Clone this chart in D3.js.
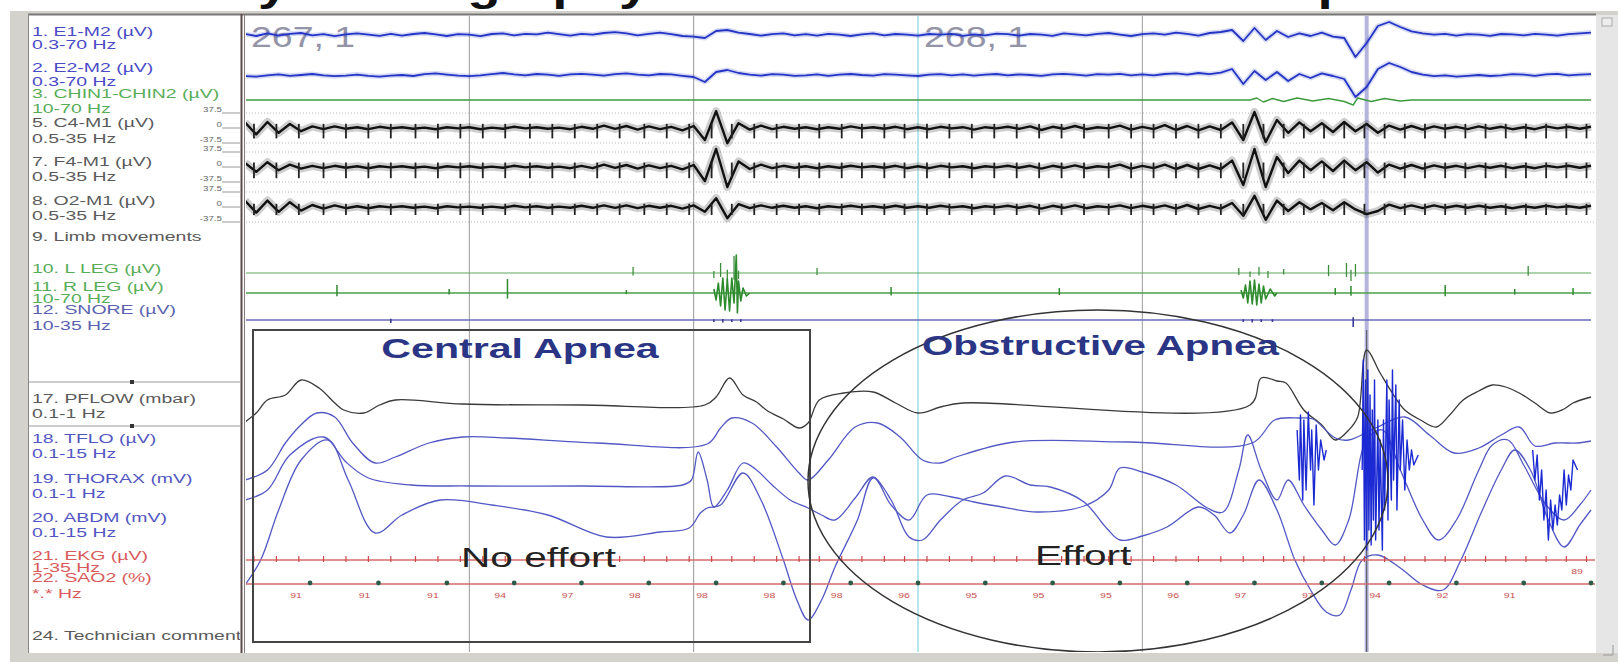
<!DOCTYPE html>
<html>
<head>
<meta charset="utf-8">
<script src="https://cdn.jsdelivr.net/npm/d3@7"></script>
<style>
  body { margin: 0; background: #fff; }
  svg { display: block; font-family: "Liberation Sans", Arial, sans-serif; }
</style>
</head>
<body>
<div class="canvas"></div>
<script>
// ---- DATA (time in seconds, 60 s window) ----
const epochStarts = [0, 30];
const epochLabels = ["267, 1", "268, 1"];
const gridTimes = [10, 20, 40];
const cursorTime = 50;

// heart beats (EKG ticks, also the artifact spikes on the EEG)
const beatTimes = [0.4,1.4,2.4,3.5,4.5,5.5,6.5,7.6,8.6,9.6,10.6,11.6,12.7,13.7,14.7,15.7,16.7,17.8,18.8,19.8,
  20.8,21.7,22.7,23.7,24.7,25.6,26.6,27.5,28.5,29.4,30.4,31.4,32.4,33.4,34.4,35.4,36.4,37.4,38.5,39.5,
  40.5,41.5,42.5,43.5,44.5,45.4,46.3,47.2,48.1,49.0,49.9,50.8,51.7,52.6,53.5,54.4,55.3,56.2,57.1,58.0,58.9,59.8];

// EOG, µV, one value every 0.5 s
const sampleStep = 0.5;
const e1Samples = [5,-5,8,-3,6,10,-2,4,-6,3, 8,2,-4,6,-3,5,10,3,-5,4, 2,-6,5,8,-2,6,3,12,4,-3, 6,2,10,14,8,-2,6,12,4,-5,
  -8,-15,20,25,12,5,-3,4,8,-2, 4,-3,6,2,-5,3,8,-2,5,2, -3,5,2,6,-4,3,-2,7,4,-3, 5,2,-4,8,3,-2,6,10,2,-5,
  4,8,2,12,6,-3,10,15,25,-30, 35,-25,20,-10,8,-5,12,-8,-15,-110, -40,45,65,40,18,8,2,6,-3,4, 2,-4,5,3,-2,6,2,-3,4,8,12];
const e2Samples = [-5,-8,-2,3,-4,0,5,-2,-6,-3, 2,-4,-8,-3,0,-5,4,8,2,-3, -6,-2,4,10,3,-2,5,2,-4,3, 6,2,-3,4,8,2,-2,5,3,-4,
  -10,-35,15,25,10,2,-3,4,2,-4, -2,3,-4,2,5,0,-3,4,2,-2, -5,2,4,-2,3,-3,2,5,-2,3, 0,-4,3,6,2,-3,4,2,6,-2,
  3,-2,5,8,2,10,4,12,30,-45, 20,-25,15,-30,5,-15,8,-5,-20,-110, -60,30,60,40,15,2,-6,-2,-8,-4, 0,-5,-2,4,2,-4,3,6,-2,2,4];

// chin EMG, µV
const chinTrace = [[0,0],[44.8,0],[45.1,4],[45.4,-4],[45.8,3],[46.3,-3],[46.9,4],[47.6,-2],[48.3,3],[49.0,-3],
  [49.4,-10],[49.6,4],[50.2,-3],[50.8,3],[51.5,-2],[52,0],[60,0]];

// EEG, µV, one value every 0.5 s
const c4Samples = [14,-16,15,-12,10,-8,4,-3,4,-2, 2,-3,3,-1,2,-2,1,-3,2,-1, 2,-3,1,-2,3,-1,2,-2,1,-3, 3,-2,6,-2,5,-4,4,-3,3,-6,
  5,-30,42,-38,12,-4,6,-3,3,-2, 2,-3,2,-2,4,-1,2,-2,3,-3, 2,-3,3,-1,2,-4,2,-1,3,-2, 4,-5,3,-2,5,-3,2,-1,6,-4,
  3,-3,7,-5,5,-6,4,-5,14,-30, 40,-35,20,-12,14,-8,12,-10,15,-8, 10,-12,6,-4,5,-4,4,-2,3,-3, 4,-2,3,-3,2,-3,4,-1,3,-2,3];
const f4Samples = [10,-12,12,-8,6,-4,3,-3,3,-2, 2,-3,2,-1,2,-2,1,-3,2,-1, 2,-2,1,-2,3,-1,2,-2,1,-3, 3,-3,6,-2,5,-4,4,-3,3,-6,
  5,-35,45,-50,14,-5,6,-3,3,-2, 2,-3,2,-2,3,-1,2,-2,3,-3, 2,-3,3,-1,2,-3,2,-1,3,-2, 3,-4,3,-2,4,-3,2,-1,6,-4,
  3,-3,6,-5,5,-5,4,-5,16,-45, 45,-50,25,-15,16,-8,14,-10,16,-8, 12,-14,6,-4,5,-4,4,-2,3,-3, 3,-2,3,-3,2,-3,3,-1,3,-2,3];
const o2Samples = [16,-14,16,-12,12,-9,5,-4,4,-3, 2,-3,2,-1,2,-2,1,-3,2,-1, 1,-2,1,-2,3,-1,2,-2,1,-2, 3,-2,4,-2,4,-3,3,-2,3,-4,
  4,-12,22,-28,7,-3,4,-2,3,-2, 2,-3,2,-1,3,-1,2,-2,3,-2, 2,-2,3,-1,2,-3,2,-1,3,-2, 3,-4,3,-2,4,-3,2,-1,4,-3,
  3,-2,4,-4,5,-5,3,-4,10,-22, 28,-32,16,-10,12,-6,10,-8,12,-6, -18,-10,6,-3,4,-3,4,-2,3,-2, 3,-2,2,-3,2,-2,3,-1,2,-2,3];
const eegArtifact = [-26, -28, -20];   // depth of the heart-beat spikes, µV
const eegRange = [37.5, 0, -37.5];

// limb / snore channels: [time, µV]
const lLegTicks = [[17.3,12],[20.9,-10],[21.2,20],[21.5,-16],[21.8,34],[22.0,-12],[25.5,10],[44.3,10],[44.8,-8],
  [45.2,12],[45.6,-10],[46.3,8],[48.3,16],[49.1,20],[49.3,-16],[49.5,18],[57.2,14]];
const rLegTicks = [[4.1,16],[9.1,8],[11.7,28],[17.0,6],[28.8,12],[36.3,10],[48.6,10],[49.3,14],[53.5,16],[56.6,8],[59.2,10]];
const rLegBursts = [
  [[20.9,8],[21.0,-14],[21.1,20],[21.2,-26],[21.3,30],[21.4,-34],[21.5,28],[21.6,-36],[21.7,30],[21.8,-20],
   [21.9,76],[21.95,-40],[22.0,24],[22.1,-16],[22.2,10],[22.35,-6],[22.5,0]],
  [[44.4,6],[44.5,-10],[44.6,16],[44.7,-20],[44.8,24],[44.9,-22],[45.0,26],[45.1,-24],[45.2,18],[45.3,-20],
   [45.4,14],[45.5,-12],[45.7,8],[45.9,-6],[46.0,0]]
];
const snoreTicks = [[6.5,-6],[20.9,-4],[21.3,-5],[21.7,-4],[22.1,-4],[44.5,-4],[44.9,-5],[45.3,-4],[45.8,-4],[49.4,-14]];

// respiratory channels: [time, amplitude]
const pflowTrace = [[0,-17],[0.5,-8],[1.0,5],[1.8,10],[2.5,25],[3.3,17],[4.0,2],[4.4,-5],[5.3,-8],[6.0,0],[6.7,5],
  [9.7,1],[15,0],[20.5,0],[21.0,8],[21.6,27],[22.2,10],[22.8,3],[23.3,-6],[24.0,-14],[24.7,-23],[25.1,-18],[25.6,5],
  [26.7,12],[28.0,13],[29.0,2],[30.0,-8],[31.0,-2],[32,2],[44.8,0],[45.3,27],[46.0,24],[46.4,22],[47.2,-5],[48.0,-20],
  [48.6,-35],[49.2,-25],[49.6,-12],[50.0,55],[50.6,32],[51.2,10],[51.7,-5],[52.4,-15],[53.1,-22],[53.7,-10],[54.3,5],
  [55.0,14],[55.6,20],[56.2,18],[56.8,12],[57.5,2],[58.2,-8],[58.8,-4],[59.2,2],[60,8]];
const tfloTrace = [[0,-37],[1.0,-27],[1.8,0],[2.4,16],[3.2,30],[4.0,26],[4.8,0],[5.8,-20],[6.7,-14],[8.2,0],[9.7,6],
  [11.7,5],[15.7,0],[20.6,-1],[21.2,15],[21.7,25],[22.6,20],[23.7,-4],[24.7,-30],[25.1,-37],[26.0,-17],[27.2,16],
  [28.2,20],[29.2,6],[30.2,-17],[31.0,-20],[31.7,-14],[34.3,1],[39.4,1],[44.9,0],[45.9,23],[47.0,25],[47.6,24],
  [48.6,5],[49.2,3],[50.4,15],[51.7,26],[52.8,8],[53.9,-10],[55.0,-5],[56.0,8],[56.8,16],[57.5,-3],[58.4,0],[59.4,0],[60,2]];
const thoraxTrace = [[0,-15],[1.0,-5],[2.0,30],[3.5,48],[4.5,23],[5.5,7],[7.4,0],[10,-1],[15,-1],[19.5,0],[19.9,5],
  [20.2,33],[20.6,5],[20.9,-22],[21.5,-5],[22.2,22],[22.8,15],[23.5,0],[24.3,-15],[25.1,-23],[25.7,-30],[26.3,-35],
  [27.2,-13],[28.0,8],[28.8,-20],[29.6,-35],[30.4,-10],[31.5,-12],[32.5,-17],[33.5,-21],[35.3,-27],[37.4,-21],
  [38.5,-5],[39.0,17],[40,13],[41.5,0],[42.9,-23],[43.6,-27],[44.3,15],[44.7,50],[45.3,15],[46.0,-15],[46.5,5],
  [47.2,-20],[48.0,-45],[48.6,-60],[49.2,-35],[50,45],[50.7,55],[51.5,15],[52.5,-35],[53.2,-55],[54,-35],[55.0,15],
  [55.6,40],[56.3,45],[57.0,20],[58.0,-20],[58.8,-35],[59.5,-20],[60,-5]];
const abdmTrace = [[0,-70],[0.7,-45],[1.5,5],[2.5,55],[3.7,75],[4.6,35],[5.8,-18],[7.0,0],[8.7,15],[11,10],[13.5,0],
  [16.1,-22],[18.5,-17],[19.8,-13],[20.3,2],[20.6,7],[21.2,10],[22.2,42],[23.0,15],[24.0,-45],[24.6,-85],[25.1,-105],
  [25.7,-85],[26.3,-52],[27.3,-5],[28.0,37],[28.8,15],[29.6,-22],[30.2,-25],[31.0,-5],[32.0,15],[32.9,22],[33.9,39],
  [35.0,30],[35.9,28],[37.4,13],[38.4,-13],[39.0,-25],[40.0,-21],[41.1,-12],[42.5,8],[43.2,0],[43.9,-18],[44.5,0],
  [45.2,35],[46.0,5],[46.8,-45],[47.5,-75],[48.2,-97],[48.8,-100],[49.3,-75],[49.8,-45],[50.5,-40],[51.5,-53],
  [52.5,-70],[53.4,-75],[54.2,-45],[55.1,2],[56.0,45],[56.6,65],[57.3,45],[58.1,-5],[58.8,-32],[59.5,-10],[60,5]];
// snoring artifact bursts on the flow channel
const tfloBursts = [
  [[46.9,13],[47.0,-37],[47.05,28],[47.15,-57],[47.2,23],[47.3,-47],[47.4,31],[47.5,-27],[47.55,13],[47.65,-62],
   [47.75,18],[47.85,-27],[47.95,3],[48.1,-17],[48.2,-7]],
  [[49.8,-27],[49.85,83],[49.9,-97],[49.95,63],[50.0,-107],[50.05,73],[50.1,-87],[50.15,48],[50.2,-102],[50.25,33],
   [50.3,-77],[50.35,63],[50.4,-97],[50.5,23],[50.55,-87],[50.6,3],[50.7,-107],[50.75,23],[50.8,-67],[50.9,63],
   [50.95,-77],[51.0,43],[51.1,-57],[51.15,73],[51.2,-37],[51.3,58],[51.35,-67],[51.45,43],[51.5,-27],[51.6,23],
   [51.7,-47],[51.8,3],[51.9,-27],[52.0,-7],[52.1,-22],[52.3,-12]],
  [[57.4,-7],[57.5,-37],[57.6,-12],[57.7,-57],[57.8,-27],[57.9,-77],[58.0,-47],[58.1,-97],[58.2,-57],[58.3,-87],
   [58.4,-62],[58.5,-82],[58.6,-52],[58.7,-67],[58.8,-27],[58.9,-62],[59.0,-32],[59.1,-47],[59.2,-17],[59.4,-27]]
];

// SpO2 samples (%)
const sao2Times = [2.9,5.95,9.0,12.0,15.0,18.0,21.0,24.0,27.0,30.0,33.0,36.0,39.0,42.0,45.0,48.0,51.0,54.0,57.0,60.0];
const sao2Values = [91,91,91,94,97,98,98,98,98,96,95,95,95,96,97,97,94,92,91,89];

// channel labels on the left panel
const panelLabels = [
  ["1. E1-M2 (µV)","eog"],["0.3-70 Hz","eog"],["2. E2-M2 (µV)","eog"],["0.3-70 Hz","eog"],
  ["3. CHIN1-CHIN2 (µV)","emg"],["10-70 Hz","emg"],
  ["5. C4-M1 (µV)","eeg"],["0.5-35 Hz","eeg"],["7. F4-M1 (µV)","eeg"],["0.5-35 Hz","eeg"],
  ["8. O2-M1 (µV)","eeg"],["0.5-35 Hz","eeg"],["9. Limb movements","eeg"],
  ["10. L LEG (µV)","emg"],["11. R LEG (µV)","emg"],["10-70 Hz","emg"],["12. SNORE (µV)","snore"],["10-35 Hz","snore"],
  ["17. PFLOW (mbar)","eeg"],["0.1-1 Hz","eeg"],["18. TFLO (µV)","resp"],["0.1-15 Hz","resp"],
  ["19. THORAX (mV)","resp"],["0.1-1 Hz","resp"],["20. ABDM (mV)","resp"],["0.1-15 Hz","resp"],
  ["21. EKG (µV)","ekg"],["1-35 Hz","ekg"],["22. SAO2 (%)","ekg"],["*.* Hz","ekg"],["24. Technician comments","eeg"]
];
const panelLabelY = [31,44,67,81,93,108,122,138,161,176,200,215,236,268,286,298,309,325,398,413,438,453,478,493,517,532,555,567,577,593,635];
const groupColor = { eog: "#4a4ac6", emg: "#58ad58", eeg: "#5a5a5a", snore: "#5a62b0", resp: "#5256c2", ekg: "#d85a5a" };

// ---- DRAWING ----
const W = 1618, H = 662;
const svg = d3.select(".canvas").append("svg").attr("width", W).attr("height", H);

const x = d3.scaleLinear().domain([0, 60]).range([245, 1591]);
const chanScale = (center, gain) => d3.scaleLinear().domain([-1, 1]).range([center + gain, center - gain]);

const yE1 = chanScale(35, 0.2), yE2 = chanScale(75, 0.2), yChin = chanScale(100, 0.5);
const yC4 = chanScale(128, 0.4), yF4 = chanScale(167, 0.4), yO2 = chanScale(207, 0.4);
const yLLeg = chanScale(273, 0.5), yRLeg = chanScale(293, 0.5), ySnore = chanScale(320, 0.5);
const yPflow = chanScale(405, 1), yTflo = chanScale(443, 1), yThorax = chanScale(485, 1), yAbdm = chanScale(515, 1);
const ekgY = 560, sao2Y = 584;

function addText(parent, str, px, py, o) {
  return parent.append("text")
    .attr("transform", `translate(${px},${py}) scale(${o.sx || 1},1)`)
    .attr("text-anchor", o.anchor || "start")
    .attr("font-size", o.size)
    .attr("font-weight", o.weight || "normal")
    .attr("fill", o.color)
    .text(str);
}

// title cut off at the top (only the descenders show)
addText(svg, "Polysomnography: Central vs Obstructive Apnea", 809, 0, { size: 42, weight: "bold", sx: 1.3, anchor: "middle", color: "#111" });

// window chrome
svg.append("rect").attr("x", 10).attr("y", 11).attr("width", 1608).attr("height", 651).attr("fill", "#d4d2cc");
svg.append("rect").attr("x", 28).attr("y", 15).attr("width", 1568).attr("height", 638).attr("fill", "#fff");
svg.append("rect").attr("x", 1596).attr("y", 15).attr("width", 22).attr("height", 638).attr("fill", "#e6e6e6");
svg.append("line").attr("x1", 28).attr("x2", 1596).attr("y1", 14.5).attr("y2", 14.5).attr("stroke", "#777").attr("stroke-width", 2);
svg.append("line").attr("x1", 28.5).attr("x2", 28.5).attr("y1", 14).attr("y2", 653).attr("stroke", "#888");
svg.append("line").attr("x1", 241.5).attr("x2", 241.5).attr("y1", 14).attr("y2", 653).attr("stroke", "#5a4a4a").attr("stroke-width", 2);
svg.append("line").attr("x1", 244.5).attr("x2", 244.5).attr("y1", 14).attr("y2", 653).attr("stroke", "#8a7a7a");
svg.append("path").attr("d", "M1603,655 L1613,655 L1613,645").attr("fill", "none").attr("stroke", "#999");
svg.append("rect").attr("x", 1602).attr("y", 18).attr("width", 10).attr("height", 8).attr("fill", "#eee").attr("stroke", "#aaa");

// left panel
const panelClip = svg.append("clipPath").attr("id", "panelClip");
panelClip.append("rect").attr("x", 29).attr("y", 15).attr("width", 211).attr("height", 638);
const panel = svg.append("g").attr("clip-path", "url(#panelClip)");

panel.selectAll("text.lbl")
  .data(panelLabels)
  .enter()
  .append("text")
    .attr("class", "lbl")
    .attr("transform", (d, i) => `translate(32,${panelLabelY[i] + 4.5}) scale(1.62,1)`)
    .attr("font-size", 12)
    .attr("fill", d => groupColor[d[1]])
    .text(d => d[0]);

[382, 426].forEach(yy => {
  panel.append("line").attr("x1", 29).attr("x2", 241).attr("y1", yy).attr("y2", yy).attr("stroke", "#999");
  panel.append("rect").attr("x", 130).attr("y", yy - 2).attr("width", 4).attr("height", 4).attr("fill", "#333");
});

// EEG scale marks
[yC4, yF4, yO2].forEach(ys => {
  eegRange.forEach(v => {
    panel.append("line").attr("x1", 222).attr("x2", 241).attr("y1", ys(v)).attr("y2", ys(v)).attr("stroke", "#999");
    addText(panel, String(v), 222, ys(v) - 1, { size: 7.5, sx: 1.3, anchor: "end", color: "#666" });
  });
});

// trace area
const traceClip = svg.append("clipPath").attr("id", "traceClip");
traceClip.append("rect").attr("x", 246).attr("y", 16).attr("width", 1349).attr("height", 636);
const graph = svg.append("g").attr("clip-path", "url(#traceClip)");

// EEG dotted reference lines
[yC4, yF4, yO2].forEach(ys => {
  [37.5, -37.5].forEach(v => {
    graph.append("line").attr("x1", 246).attr("x2", 1595).attr("y1", ys(v)).attr("y2", ys(v))
      .attr("stroke", "#b8b8b8").attr("stroke-dasharray", "1,2");
  });
});

// vertical grid
graph.selectAll("line.grid")
  .data(gridTimes)
  .enter()
  .append("line")
    .attr("class", "grid")
    .attr("x1", d => x(d)).attr("x2", d => x(d))
    .attr("y1", 16).attr("y2", 652)
    .attr("stroke", "#9a9a9a").attr("stroke-width", 1);
graph.append("line").attr("x1", x(30)).attr("x2", x(30)).attr("y1", 16).attr("y2", 652)
  .attr("stroke", "#9fdce6").attr("stroke-width", 1.5);
graph.append("line").attr("x1", x(cursorTime)).attr("x2", x(cursorTime)).attr("y1", 16).attr("y2", 652)
  .attr("stroke", "#b4b4dc").attr("stroke-width", 4);
graph.append("line").attr("x1", x(cursorTime)).attr("x2", x(cursorTime)).attr("y1", 330).attr("y2", 652)
  .attr("stroke", "#555").attr("stroke-width", 1);

// epoch numbers
epochStarts.forEach((t, i) => {
  addText(graph, epochLabels[i], x(t) + 6, 47, { size: 30, sx: 1.25, color: "#9494a8" });
});

const seriesFrom = samples => samples.map((v, i) => [i * sampleStep, v]);
const drawTrace = (data, ys, color, width, curve) =>
  graph.append("path")
    .datum(data)
    .attr("fill", "none")
    .attr("stroke", color)
    .attr("stroke-width", width)
    .attr("stroke-linejoin", "round")
    .attr("d", d3.line().curve(curve || d3.curveLinear).x(d => x(d[0])).y(d => ys(d[1])));
const drawTicks = (data, ys, color, width) =>
  graph.append("g").selectAll("line")
    .data(data)
    .enter()
    .append("line")
      .attr("x1", d => x(d[0])).attr("x2", d => x(d[0]))
      .attr("y1", d => ys(-d[1] * 0.4)).attr("y2", d => ys(d[1]))
      .attr("stroke", color).attr("stroke-width", width);

// EOG + chin (soft halo mimics the blur of the screenshot)
[e1Samples, e2Samples].forEach((s, k) => {
  const ys = k ? yE2 : yE1;
  drawTrace(seriesFrom(s), ys, "#2434c4", 5).attr("opacity", 0.18);
  drawTrace(seriesFrom(s), ys, "#2434c4", 1.8);
});
drawTrace(chinTrace, yChin, "#3f9a3f", 1.4);

// EEG with heartbeat artifacts
[[c4Samples, yC4], [f4Samples, yF4], [o2Samples, yO2]].forEach(([s, ys], k) => {
  drawTrace(seriesFrom(s), ys, "#222", 8).attr("opacity", 0.22);
  drawTrace(seriesFrom(s), ys, "#111", 2.4);
  drawTicks(beatTimes.map(t => [t, eegArtifact[k]]), ys, "#222", 1.8);
});

// limbs and snore
drawTrace([[0, 0], [60, 0]], yLLeg, "#5aa85a", 1.2);
drawTicks(lLegTicks, yLLeg, "#3e8e3e", 1.3);
drawTrace([[0, 0], [60, 0]], yRLeg, "#4aa04a", 1.5);
drawTicks(rLegTicks, yRLeg, "#2f8a2f", 1.5);
rLegBursts.forEach(b => drawTrace(b, yRLeg, "#2e8b2e", 1.6));
drawTrace([[0, 0], [60, 0]], ySnore, "#6a6ab8", 1.5);
drawTicks(snoreTicks, ySnore, "#3a3a99", 1.6);

// respiration
const smooth = d3.curveCatmullRom.alpha(0.5);
drawTrace(pflowTrace, yPflow, "#3a3a3a", 1.3, smooth);
drawTrace(tfloTrace, yTflo, "#5258c4", 1.3, smooth);
drawTrace(thoraxTrace, yThorax, "#5258c4", 1.3, smooth);
drawTrace(abdmTrace, yAbdm, "#5258c4", 1.3, smooth);
tfloBursts.forEach(b => drawTrace(b, yTflo, "#1c2ad4", 1.4));

// EKG
graph.append("line").attr("x1", 246).attr("x2", 1595).attr("y1", ekgY).attr("y2", ekgY)
  .attr("stroke", "#d86a6a").attr("stroke-width", 1.3);
graph.append("g").selectAll("line")
  .data(beatTimes)
  .enter()
  .append("line")
    .attr("x1", d => x(d)).attr("x2", d => x(d))
    .attr("y1", ekgY - 4).attr("y2", ekgY + 2)
    .attr("stroke", "#c84848").attr("stroke-width", 1.2);

// SaO2
graph.append("line").attr("x1", 246).attr("x2", 1595).attr("y1", sao2Y).attr("y2", sao2Y)
  .attr("stroke", "#d46a6a").attr("stroke-width", 1.5);
graph.append("g").selectAll("circle")
  .data(sao2Times)
  .enter()
  .append("circle")
    .attr("cx", d => x(d)).attr("cy", sao2Y - 1)
    .attr("r", 2.4)
    .attr("fill", "#2f5a48");
sao2Values.forEach((v, i) => {
  const last = i === sao2Values.length - 1;
  addText(graph, String(v), x(sao2Times[i]) - 14, last ? sao2Y - 10 : sao2Y + 14,
    { size: 7, sx: 1.5, anchor: "middle", color: "#c85050" });
});

// annotations
graph.append("rect").attr("x", 253).attr("y", 330).attr("width", 557).attr("height", 312)
  .attr("fill", "none").attr("stroke", "#444").attr("stroke-width", 2);
graph.append("ellipse").attr("cx", 1098).attr("cy", 481).attr("rx", 290).attr("ry", 171)
  .attr("fill", "none").attr("stroke", "#333").attr("stroke-width", 1.5);

addText(graph, "Central Apnea", 520, 358, { size: 28, weight: "bold", sx: 1.47, anchor: "middle", color: "#2b3585" });
addText(graph, "Obstructive Apnea", 922, 355, { size: 28, weight: "bold", sx: 1.44, color: "#2b3585" });
addText(graph, "No effort", 461, 567, { size: 28, sx: 1.45, color: "#222" });
addText(graph, "Effort", 1035, 565, { size: 28, sx: 1.45, color: "#222" });
</script>
</body>
</html>
